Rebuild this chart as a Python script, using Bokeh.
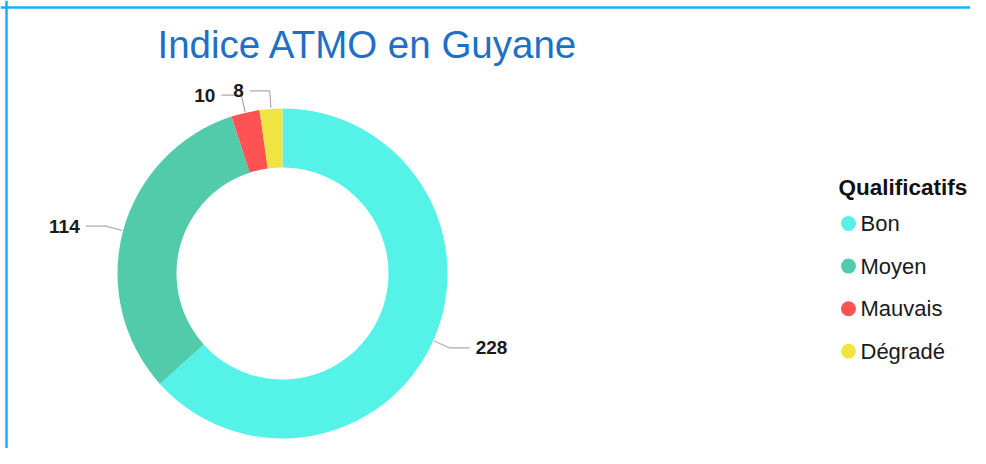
import math
from bokeh.plotting import figure
from bokeh.models import Range1d, ColumnDataSource, Span
from bokeh.core.properties import value
from bokeh.embed import file_html
from bokeh.resources import INLINE

# ---- data ----
categories = ["Bon", "Moyen", "Mauvais", "Dégradé"]
counts = [228, 114, 10, 8]
colors = ["#55F2E7", "#52CBAA", "#FF5252", "#F0E442"]
title_text = "Indice ATMO en Guyane"
legend_title = "Qualificatifs"

# ---- layout (pixel-like data units: x = image x, y = -image y) ----
W, H = 970, 448
CX, CY = 282, -273
R_OUT, R_IN = 165, 106
R_ELBOW = 183
HLEN = 20
FONT = "Liberation Sans"

p = figure(width=W, height=H, output_backend="svg", toolbar_location=None,
           x_range=Range1d(0, W), y_range=Range1d(-H, 0),
           min_border=0, outline_line_color=None)
p.axis.visible = False
p.grid.visible = False
p.background_fill_color = "white"
p.border_fill_color = "white"

total = sum(counts)
starts, ends, mids = [], [], []
cum = 0
for c in counts:
    a0 = math.pi / 2 - 2 * math.pi * cum / total
    cum += c
    a1 = math.pi / 2 - 2 * math.pi * cum / total
    starts.append(a0)
    ends.append(a1)
    mids.append((a0 + a1) / 2)

src = ColumnDataSource(dict(cat=categories, val=counts, color=colors,
                            start=starts, end=ends))
p.annular_wedge(x=CX, y=CY, inner_radius=R_IN, outer_radius=R_OUT,
                start_angle="start", end_angle="end", direction="clock",
                fill_color="color", line_color=None, source=src)

# leader lines and value labels
xs, ys, lx, ly, ltxt, lalign = [], [], [], [], [], []
for m, c in zip(mids, counts):
    x0 = CX + (R_OUT + 1) * math.cos(m)
    y0 = CY + (R_OUT + 1) * math.sin(m)
    xe = CX + R_ELBOW * math.cos(m)
    ye = CY + R_ELBOW * math.sin(m)
    side = 1 if math.cos(m) >= 0 else -1
    x2 = xe + side * HLEN
    xs.append([x0, xe, x2])
    ys.append([y0, ye, ye])
    lx.append(x2 + side * 6)
    ly.append(ye)
    ltxt.append(str(c))
    lalign.append("left" if side > 0 else "right")

p.multi_line(xs=xs, ys=ys, line_color="#AAAAAA", line_width=1.2)
p.text(x=lx, y=ly, text=ltxt, text_align=lalign, text_baseline="middle",
       text_font=value(FONT), text_font_style="bold", text_font_size="19px",
       text_color="#1A1A1A")

# title
p.text(x=[157], y=[-44], text=[title_text], text_align="left",
       text_baseline="alphabetic", text_font=value(FONT),
       text_font_size="38.5px", text_color="#1F6FC5")

# legend (manual)
LEG_X = 848
LEG_Y0 = -223
LEG_DY = 42.6
leg_y = [LEG_Y0 - i * LEG_DY for i in range(len(categories))]
p.scatter(x=[LEG_X] * len(categories), y=leg_y, size=15, marker="circle",
          fill_color=colors, line_color=None)
p.text(x=[LEG_X + 12] * len(categories), y=leg_y, text=categories,
       text_align="left", text_baseline="middle", text_font=value(FONT),
       text_font_size="22px", text_color="#1A1A1A")
p.text(x=[838], y=[-187], text=[legend_title], text_align="left",
       text_baseline="middle", text_font=value(FONT), text_font_style="bold",
       text_font_size="22.5px", text_color="#111111")

# frame border (top and left)
p.add_layout(Span(location=-7, dimension="width", line_color="#18B0F0", line_width=2.5))
p.add_layout(Span(location=6, dimension="height", line_color="#18B0F0", line_width=2.5))

open("out.html", "w").write(file_html(p, INLINE))
